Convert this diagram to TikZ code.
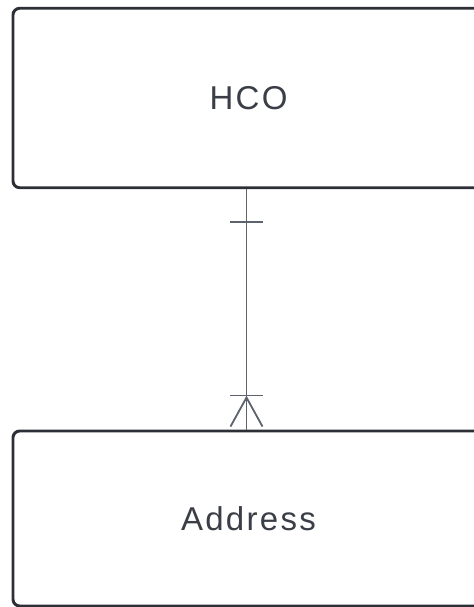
\documentclass[tikz,border=0pt]{standalone}
\usepackage{fontspec}
\setmainfont{Liberation Sans}
\newfontfamily\labelfont[LetterSpace=7]{Liberation Sans}
\usetikzlibrary{positioning,calc}
\definecolor{boxgray}{RGB}{44,48,54}
\definecolor{linkgray}{RGB}{92,99,108}
\definecolor{fontgray}{RGB}{58,62,70}

\begin{document}
\begin{tikzpicture}[x=0.75pt, y=-0.75pt,
		entity/.style={draw=boxgray, line width=2.2pt, rounded corners=5pt, fill=white, minimum width=353.25pt, inner sep=0pt, text=fontgray, font=\labelfont\fontsize{24.75}{28}\selectfont},
		relLine/.style={line width=1.35pt, color=linkgray},
		]
		\useasboundingbox (0,0) rectangle (474,607);
		\clip (0,0) rectangle (474,607);
		
		\node[entity, minimum height=134.6pt] (hco) at (248.5,98) {HCO};
		\node[entity, minimum height=131.25pt] (addr) at (248.5,518.5) {Address};
		
		\coordinate (relTop) at ($(hco.south)+(-2,0)$);
		\coordinate (relBot) at ($(addr.north)+(-2,0)$);
		
		\draw [relLine] (relTop) -- (relBot);
		
		% exactly one
		\draw [relLine] ($(relTop)+(-16.5,33)$) -- ($(relTop)+(16.5,33)$);
		
		% one or many
		\draw [relLine] ($(relBot)+(-16.5,-34)$) -- ($(relBot)+(16.5,-34)$);
		\draw [relLine] ($(relBot)+(-16,-3)$) -- ($(relBot)+(0,-32)$) -- ($(relBot)+(16,-3)$);
		
\end{tikzpicture}
\end{document}
